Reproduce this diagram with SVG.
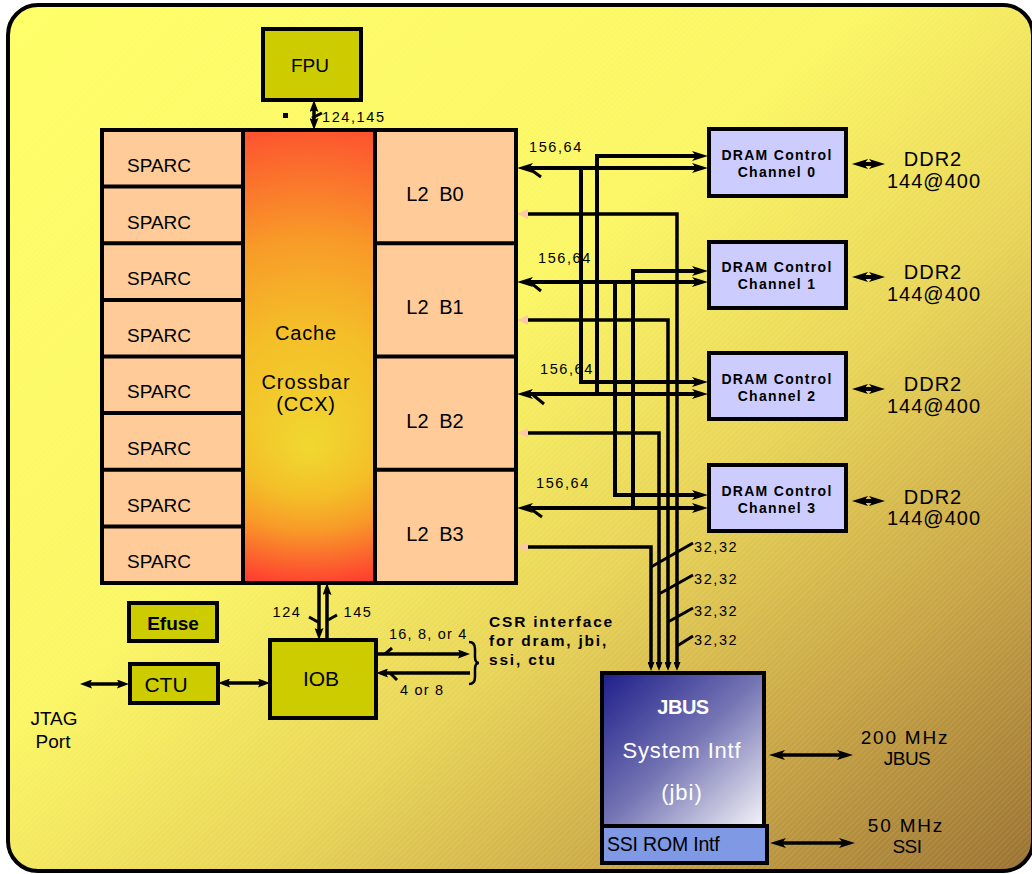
<svg xmlns="http://www.w3.org/2000/svg" width="1032" height="874" viewBox="0 0 1032 874">
<defs>
  <linearGradient id="bg" x1="0" y1="0" x2="1" y2="1">
    <stop offset="0" stop-color="#FFFF66"/>
    <stop offset="0.42" stop-color="#FBF664"/>
    <stop offset="0.62" stop-color="#E8D457"/>
    <stop offset="0.8" stop-color="#C9A646"/>
    <stop offset="1" stop-color="#9A7232"/>
  </linearGradient>
  <pattern id="hatch" width="4" height="4" patternUnits="userSpaceOnUse" patternTransform="rotate(45)">
    <line x1="0" y1="0" x2="0" y2="4" stroke="#FFFFFF" stroke-width="0.8"/>
  </pattern>
  <radialGradient id="ccx" gradientUnits="userSpaceOnUse" cx="309" cy="340" r="245" fx="309" fy="450">
    <stop offset="0" stop-color="#F0D830"/>
    <stop offset="0.35" stop-color="#F4BE28"/>
    <stop offset="0.6" stop-color="#F89A28"/>
    <stop offset="0.85" stop-color="#FC622E"/>
    <stop offset="1" stop-color="#FF4030"/>
  </radialGradient>
  <linearGradient id="jbus" x1="0" y1="0" x2="1" y2="1">
    <stop offset="0" stop-color="#1E1E8A"/>
    <stop offset="0.5" stop-color="#7474B4"/>
    <stop offset="1" stop-color="#F4F4F8"/>
  </linearGradient>
  <marker id="a" markerUnits="userSpaceOnUse" markerWidth="16" markerHeight="10" refX="8" refY="5" orient="auto-start-reverse">
    <path d="M0,0 L16,5 L0,10 L4,5 z" fill="#000"/>
  </marker>
  <marker id="m" markerUnits="userSpaceOnUse" markerWidth="12" markerHeight="9" refX="6" refY="4.5" orient="auto-start-reverse">
    <path d="M0,0 L12,4.5 L0,9 L2,4.5 z" fill="#000"/>
  </marker>
  <marker id="s" markerUnits="userSpaceOnUse" markerWidth="9" markerHeight="7" refX="5" refY="3.5" orient="auto-start-reverse">
    <path d="M0,0 L9,3.5 L0,7 z" fill="#000"/>
  </marker>
  <style>
    text { font-family: "Liberation Sans", Arial, sans-serif; fill: #000; }
    .box { stroke: #000; stroke-width: 4; }
    .peach { fill: #FFCC99; }
    .olive { fill: #CCCC00; }
    .dram { fill: #CCCCFF; }
    .c { fill: none; stroke: #000; stroke-width: 4; }
    .c3 { fill: none; stroke: #000; stroke-width: 3.5; }
    .tick { fill: none; stroke: #000; stroke-width: 3; }
    .lbl { font-size: 14.5px; letter-spacing: 1.6px; }
    .sparc { font-size: 19px; }
    .l2 { font-size: 20px; word-spacing: 5px; }
    .dt { font-size: 14px; font-weight: bold; letter-spacing: 1.3px; text-anchor: middle; }
    .ddr { font-size: 20px; text-anchor: middle; letter-spacing: 1px; }
    .mid { text-anchor: middle; }
    .csr { font-size: 15.5px; font-weight: bold; letter-spacing: 1.8px; }
    .pink { fill: #FFC8A8; }
  </style>
</defs>

<g id="background">
  <rect x="8" y="5" width="1025" height="866" rx="30" fill="url(#bg)"/>
  <rect x="8" y="5" width="1025" height="866" rx="30" fill="url(#hatch)" opacity="0.25"/>
  <rect x="8" y="5" width="1025" height="866" rx="30" fill="none" stroke="#000" stroke-width="4"/>
</g>

<g id="connectors">
  <!-- FPU to CCX -->
  <line class="c3" x1="314" y1="106" x2="314" y2="124" marker-start="url(#m)" marker-end="url(#m)"/>
  <line class="tick" x1="312" y1="118" x2="322" y2="113"/>
  <rect x="283" y="113" width="5" height="5" fill="#000"/>
  <text class="lbl" x="322" y="122">124,145</text>

  <!-- L2 to DRAM channels -->
  <line class="c" x1="525" y1="168" x2="700" y2="168" marker-start="url(#a)" marker-end="url(#a)"/>
  <path class="c" d="M597,394 V156 H700" marker-end="url(#a)"/>
  <path class="c" d="M581,168 V382 H700" marker-end="url(#a)"/>
  <line class="c" x1="525" y1="282" x2="700" y2="282" marker-start="url(#a)" marker-end="url(#a)"/>
  <path class="c" d="M633,508 V271 H700" marker-end="url(#a)"/>
  <path class="c" d="M615,282 V495 H700" marker-end="url(#a)"/>
  <line class="c" x1="525" y1="394" x2="700" y2="394" marker-start="url(#a)" marker-end="url(#a)"/>
  <line class="c" x1="525" y1="508" x2="700" y2="508" marker-start="url(#a)" marker-end="url(#a)"/>
  <line class="tick" x1="530" y1="169" x2="541" y2="177"/>
  <line class="tick" x1="531" y1="283" x2="541" y2="291"/>
  <line class="tick" x1="533" y1="395" x2="544" y2="404"/>
  <line class="tick" x1="531" y1="509" x2="542" y2="517"/>
  <text class="lbl" x="529" y="152">156,64</text>
  <text class="lbl" x="538" y="263">156,64</text>
  <text class="lbl" x="540" y="374">156,64</text>
  <text class="lbl" x="536" y="488">156,64</text>

  <!-- L2 to JBUS -->
  <path class="c3" d="M527,214 H677 V667" marker-end="url(#s)"/>
  <path class="c3" d="M527,320 H668 V667" marker-end="url(#s)"/>
  <path class="c3" d="M527,433 H659 V667" marker-end="url(#s)"/>
  <path class="c3" d="M527,547 H651 V667" marker-end="url(#s)"/>
  <polygon class="pink" points="517,214 528,209 528,219"/>
  <polygon class="pink" points="517,320 528,315 528,325"/>
  <polygon class="pink" points="517,433 528,428 528,438"/>
  <polygon class="pink" points="517,547 528,542 528,552"/>
  <line class="tick" x1="651" y1="567" x2="693" y2="543"/>
  <line class="tick" x1="659" y1="594" x2="693" y2="575"/>
  <line class="tick" x1="668" y1="622" x2="693" y2="608"/>
  <line class="tick" x1="677" y1="646" x2="693" y2="636"/>
  <text class="lbl" x="694" y="552">32,32</text>
  <text class="lbl" x="694" y="584">32,32</text>
  <text class="lbl" x="694" y="616">32,32</text>
  <text class="lbl" x="694" y="645">32,32</text>

  <!-- DRAM to DDR2 -->
  <line class="c" x1="860" y1="164" x2="877" y2="164" marker-start="url(#a)" marker-end="url(#a)"/>
  <line class="c" x1="860" y1="277" x2="877" y2="277" marker-start="url(#a)" marker-end="url(#a)"/>
  <line class="c" x1="860" y1="389" x2="877" y2="389" marker-start="url(#a)" marker-end="url(#a)"/>
  <line class="c" x1="860" y1="501" x2="877" y2="501" marker-start="url(#a)" marker-end="url(#a)"/>

  <!-- CCX to IOB -->
  <line class="c3" x1="319" y1="583" x2="319" y2="634" marker-end="url(#m)"/>
  <line class="c3" x1="327" y1="640" x2="327" y2="589" marker-end="url(#m)"/>
  <line class="tick" x1="309" y1="617" x2="318" y2="622"/>
  <line class="tick" x1="328" y1="620" x2="337" y2="615"/>
  <text class="lbl mid" x="287" y="617">124</text>
  <text class="lbl mid" x="358" y="617">145</text>

  <!-- CTU / JTAG -->
  <line class="c3" x1="224" y1="683" x2="264" y2="683" marker-start="url(#m)" marker-end="url(#m)"/>
  <line class="c3" x1="86" y1="684" x2="123" y2="684" marker-start="url(#m)" marker-end="url(#m)"/>

  <!-- IOB CSR -->
  <line class="c3" x1="376" y1="654" x2="464" y2="654" marker-end="url(#m)"/>
  <line class="c3" x1="470" y1="673" x2="382" y2="673" marker-end="url(#m)"/>
  <line class="tick" x1="385" y1="654" x2="392" y2="648"/>
  <line class="tick" x1="390" y1="673" x2="397" y2="680"/>
  <path d="M469,642 Q475,642 475,649 V657 Q475,663 479,663 Q475,663 475,669 V677 Q475,684 469,684" fill="none" stroke="#000" stroke-width="2.5"/>
  <text class="lbl" x="389" y="639" style="letter-spacing:1.2px">16, 8, or 4</text>
  <text class="lbl" x="400" y="695" style="letter-spacing:1.2px">4 or 8</text>
  <text class="csr" x="489" y="627">CSR interface</text>
  <text class="csr" x="489" y="646">for dram, jbi,</text>
  <text class="csr" x="489" y="665">ssi, ctu</text>

  <!-- JBUS / SSI external -->
  <line class="c3" x1="777" y1="755" x2="845" y2="755" marker-start="url(#a)" marker-end="url(#a)"/>
  <line class="c3" x1="778" y1="843" x2="847" y2="843" marker-start="url(#a)" marker-end="url(#a)"/>
</g>

<g id="fpu">
  <rect class="box olive" x="263" y="29" width="98" height="71"/>
  <text class="mid" x="310" y="72" font-size="19">FPU</text>
</g>

<g id="sparc-cores">
  <rect class="box peach" x="102" y="130" width="141" height="453"/>
  <line class="box" x1="102" y1="186.6" x2="243" y2="186.6"/>
  <line class="box" x1="102" y1="243.2" x2="243" y2="243.2"/>
  <line class="box" x1="102" y1="299.9" x2="243" y2="299.9"/>
  <line class="box" x1="102" y1="356.5" x2="243" y2="356.5"/>
  <line class="box" x1="102" y1="413.1" x2="243" y2="413.1"/>
  <line class="box" x1="102" y1="469.7" x2="243" y2="469.7"/>
  <line class="box" x1="102" y1="526.4" x2="243" y2="526.4"/>
  <text class="sparc" x="127" y="172">SPARC</text>
  <text class="sparc" x="127" y="229">SPARC</text>
  <text class="sparc" x="127" y="285">SPARC</text>
  <text class="sparc" x="127" y="342">SPARC</text>
  <text class="sparc" x="127" y="398">SPARC</text>
  <text class="sparc" x="127" y="455">SPARC</text>
  <text class="sparc" x="127" y="512">SPARC</text>
  <text class="sparc" x="127" y="568">SPARC</text>
</g>

<g id="ccx">
  <rect class="box" x="243" y="130" width="132" height="453" fill="url(#ccx)"/>
  <text class="mid" x="306" y="340" font-size="20" letter-spacing="0.8">Cache</text>
  <text class="mid" x="306" y="389" font-size="20" letter-spacing="1">Crossbar</text>
  <text class="mid" x="306" y="411" font-size="20" letter-spacing="0.8">(CCX)</text>
</g>

<g id="l2-banks">
  <rect class="box peach" x="375" y="130" width="141" height="453"/>
  <line class="box" x1="375" y1="243.2" x2="516" y2="243.2"/>
  <line class="box" x1="375" y1="356.5" x2="516" y2="356.5"/>
  <line class="box" x1="375" y1="469.7" x2="516" y2="469.7"/>
  <text class="l2 mid" x="435" y="201">L2 B0</text>
  <text class="l2 mid" x="435" y="314">L2 B1</text>
  <text class="l2 mid" x="435" y="428">L2 B2</text>
  <text class="l2 mid" x="435" y="541">L2 B3</text>
</g>

<g id="dram0">
  <rect class="box dram" x="709" y="129" width="137" height="67"/>
  <text class="dt" x="777" y="160">DRAM Control</text>
  <text class="dt" x="777" y="177">Channel 0</text>
  <text class="ddr" x="933" y="166">DDR2</text>
  <text class="ddr" x="934" y="188">144@400</text>
</g>
<g id="dram1">
  <rect class="box dram" x="709" y="242" width="137" height="66"/>
  <text class="dt" x="777" y="272">DRAM Control</text>
  <text class="dt" x="777" y="289">Channel 1</text>
  <text class="ddr" x="933" y="279">DDR2</text>
  <text class="ddr" x="934" y="301">144@400</text>
</g>
<g id="dram2">
  <rect class="box dram" x="709" y="353" width="137" height="66"/>
  <text class="dt" x="777" y="384">DRAM Control</text>
  <text class="dt" x="777" y="401">Channel 2</text>
  <text class="ddr" x="933" y="391">DDR2</text>
  <text class="ddr" x="934" y="413">144@400</text>
</g>
<g id="dram3">
  <rect class="box dram" x="709" y="465" width="137" height="66"/>
  <text class="dt" x="777" y="496">DRAM Control</text>
  <text class="dt" x="777" y="513">Channel 3</text>
  <text class="ddr" x="933" y="504">DDR2</text>
  <text class="ddr" x="934" y="525">144@400</text>
</g>

<g id="efuse">
  <rect class="box olive" x="129" y="603" width="88" height="38"/>
  <text class="mid" x="173" y="630" font-size="19" font-weight="bold">Efuse</text>
</g>

<g id="ctu">
  <rect class="box olive" x="130" y="664" width="88" height="39"/>
  <text class="mid" x="166" y="692" font-size="21">CTU</text>
</g>

<g id="jtag">
  <text class="mid" x="54" y="725" font-size="19">JTAG</text>
  <text class="mid" x="53" y="748" font-size="19">Port</text>
</g>

<g id="iob">
  <rect class="box olive" x="270" y="640" width="106" height="78"/>
  <text class="mid" x="321" y="686" font-size="21">IOB</text>
</g>

<g id="jbi">
  <rect class="box" x="602" y="673" width="162" height="153" fill="url(#jbus)"/>
  <text class="mid" x="683" y="714" font-size="20" font-weight="bold" style="fill:#FFFFFF" letter-spacing="-0.5">JBUS</text>
  <text class="mid" x="682" y="758" font-size="22" style="fill:#FFFFFF" letter-spacing="0.8">System Intf</text>
  <text class="mid" x="682" y="800" font-size="22" style="fill:#FFFFFF" letter-spacing="1">(jbi)</text>
  <text class="mid" x="905" y="744" font-size="19" letter-spacing="1.8">200 MHz</text>
  <text class="mid" x="907" y="765" font-size="19" letter-spacing="-0.5">JBUS</text>
</g>

<g id="ssi">
  <rect class="box" x="602" y="826" width="165" height="37" fill="#7F99E5"/>
  <text x="607" y="851" font-size="19.5" letter-spacing="-0.2">SSI ROM Intf</text>
  <text class="mid" x="906" y="832" font-size="19" letter-spacing="1.8">50 MHz</text>
  <text class="mid" x="907" y="853" font-size="19" letter-spacing="-0.5">SSI</text>
</g>
</svg>
